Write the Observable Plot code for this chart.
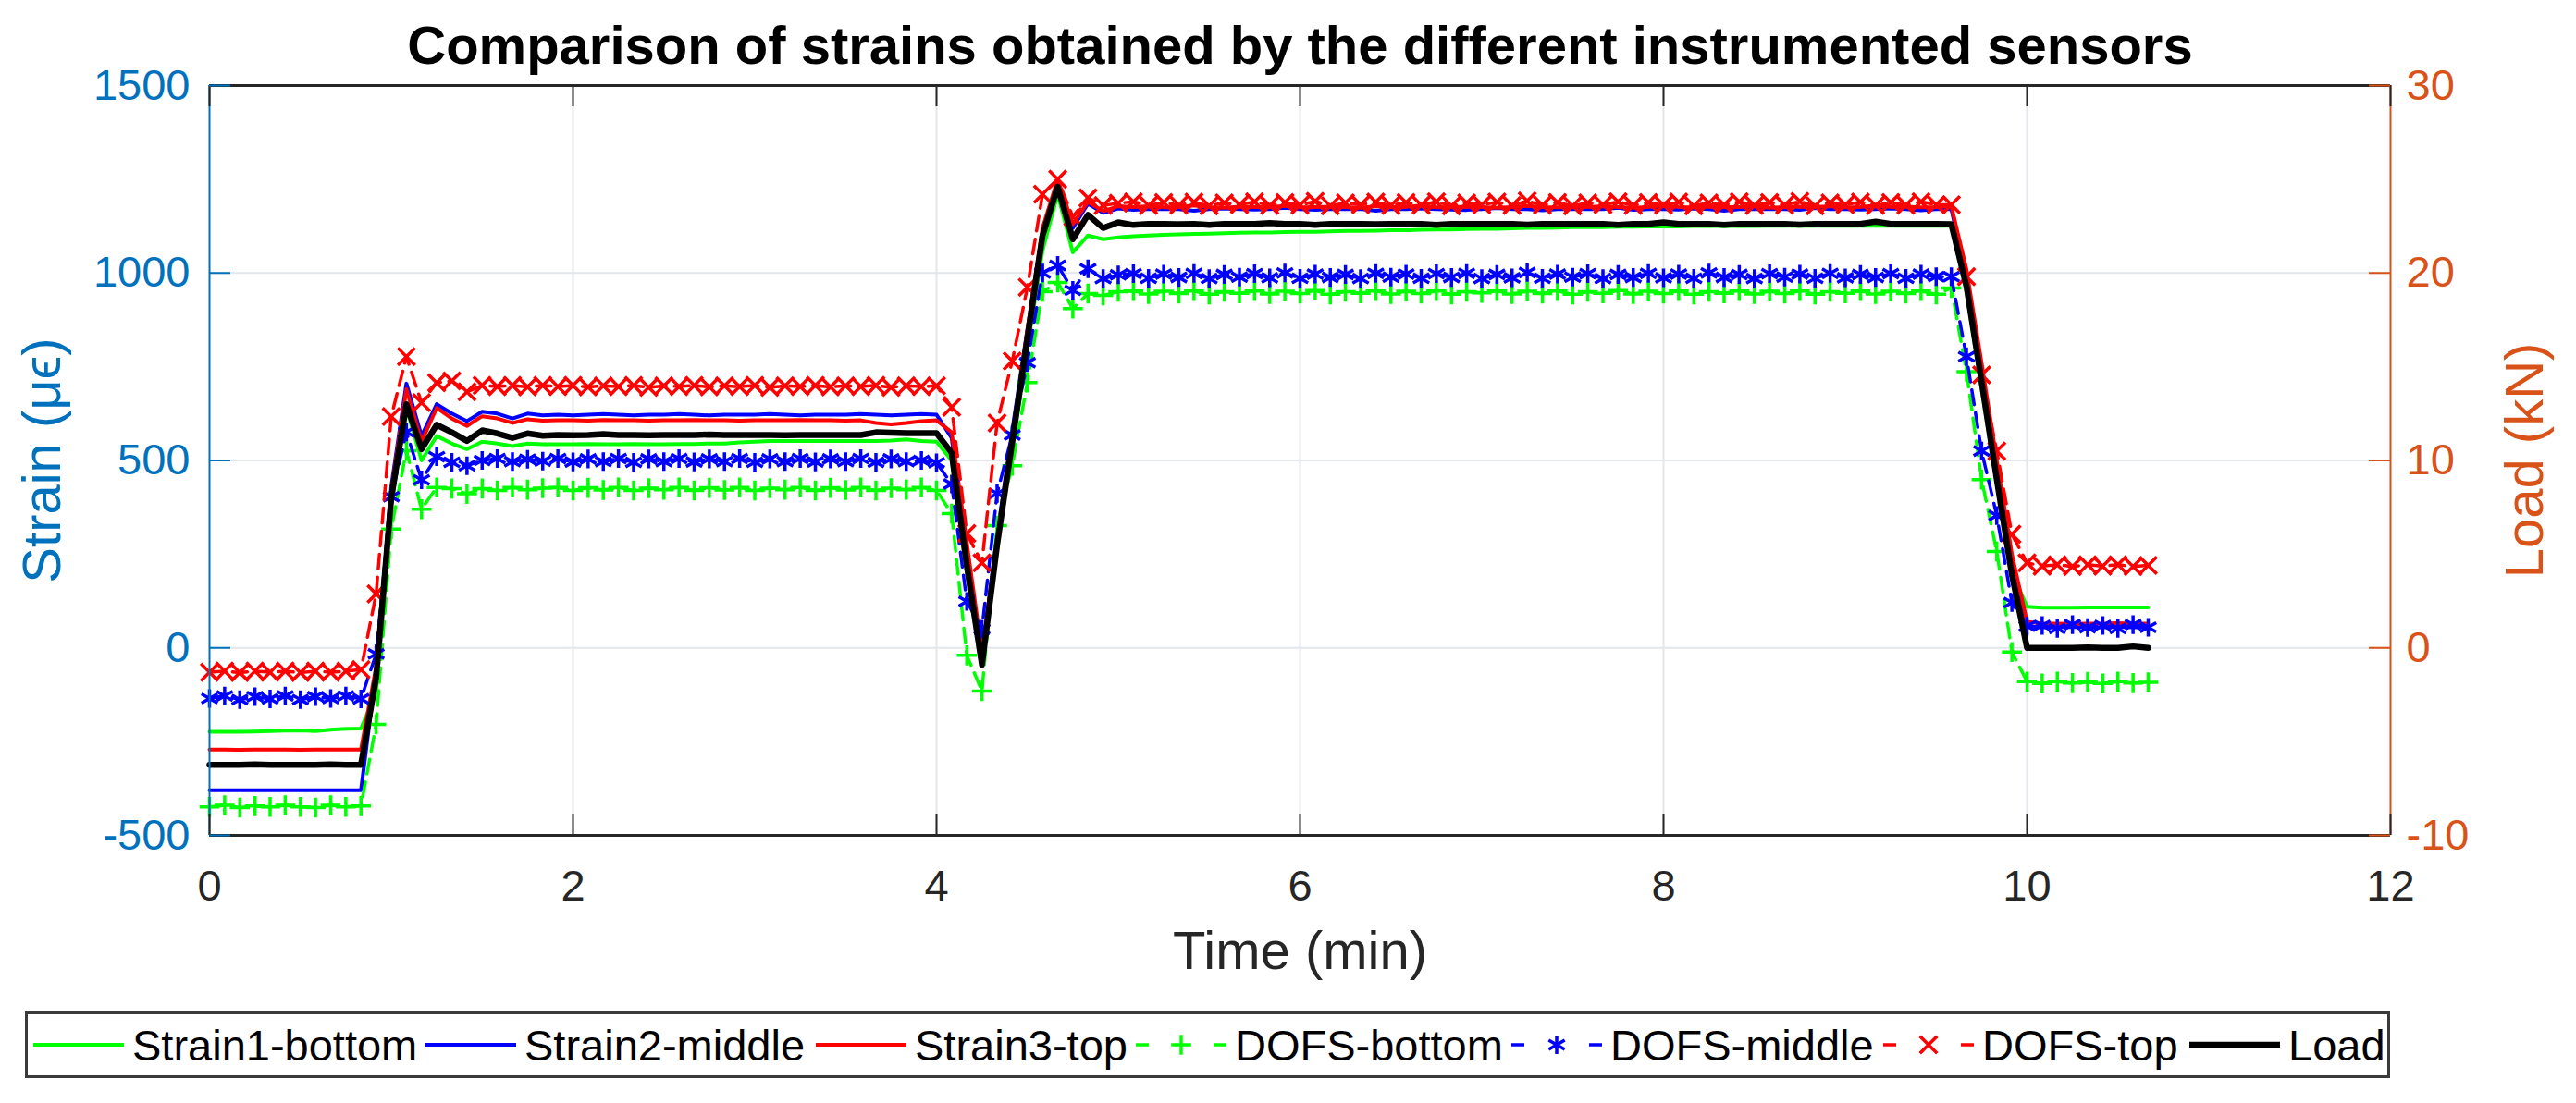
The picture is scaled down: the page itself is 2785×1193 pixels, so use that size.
<!DOCTYPE html>
<html>
<head>
<meta charset="utf-8">
<script src="https://cdn.jsdelivr.net/npm/d3@7"></script>
<script src="https://cdn.jsdelivr.net/npm/@observablehq/plot@0.6"></script>
<style>
  body { margin: 0; background: #fff; font-family: "Liberation Sans", Arial, Helvetica, sans-serif; }
  #wrap { position: relative; width: 2785px; height: 1193px; overflow: hidden; }
  #chart { position: absolute; left: 0; top: 0; }
  #legend { position: absolute; left: 27px; top: 1094px; width: 2557px; height: 72px; box-sizing: border-box; border: 3px solid #3a3a3a; background: #fff; }
  .item { position: absolute; top: 0; height: 66px; display: flex; align-items: center; font-size: 47px; color: #000; white-space: nowrap; }
  .item span { margin-left: 9px; }
</style>
</head>
<body>
<div id="wrap"><div id="chart"></div><div id="legend"></div></div>
<script>
// ---------------- data ----------------
const timeSec = [
  0,5,10,15,20,25,30,35,40,45,50,55,60,65,70,75,
  80,85,90,95,100,105,110,115,120,125,130,135,140,145,150,155,
  160,165,170,175,180,185,190,195,200,205,210,215,220,225,230,235,
  240,245,250,255,260,265,270,275,280,285,290,295,300,305,310,315,
  320,325,330,335,340,345,350,355,360,365,370,375,380,385,390,395,
  400,405,410,415,420,425,430,435,440,445,450,455,460,465,470,475,
  480,485,490,495,500,505,510,515,520,525,530,535,540,545,550,555,
  560,565,570,575,580,585,590,595,600,605,610,615,620,625,630,635,
  640
];

const strain1Bottom = [
  -224,-224,-224,-223,-222,-221,-220,-222,-218,-216,-215,
  -120,380,640,500,565,545,530,550,545,538,545,543,
  543,543,544,543,543,544,543,543,544,544,545,545,548,550,552,552,552,552,552,552,552,552,553,556,552,550,
  500,200,-50,270,530,800,1060,1210,1055,1100,1090,1095,
  1098,1100,1102,1103,1104,1105,1106,1107,1108,1108,
  1109,1110,1110,1111,1112,1112,1113,1114,1114,1115,
  1116,1116,1117,1118,1118,1119,1120,1120,1121,1122,
  1122,1122,1123,1123,1124,1124,1124,1125,1125,1125,
  1125,1125,1126,1126,1126,1126,1126,1126,1126,1126,
  1126,1126,1126,1126,1126,
  950,690,440,200,110,
  107,107,107,108,108,108,108,108
];

const strain2Middle = [
  -380,-380,-380,-380,-380,-380,-380,-380,-380,-380,-380,
  -60,430,705,565,650,625,605,630,625,612,625,620,
  622,620,622,624,622,620,622,622,624,622,620,622,622,622,624,622,620,622,622,622,624,622,620,622,624,622,
  560,250,-20,300,580,850,1110,1245,1120,1185,1160,1172,
  1168,1170,1171,1170,1166,1170,1172,1170,1169,1170,
  1174,1170,1168,1170,1170,1171,1166,1170,1170,1172,
  1170,1169,1168,1170,1173,1170,1170,1167,1170,1171,
  1170,1170,1174,1168,1170,1170,1169,1172,1170,1166,
  1170,1170,1171,1170,1168,1173,1170,1170,1169,1170,
  1172,1170,1167,1170,1170,
  990,735,475,220,58,
  55,55,56,55,55,56,55,55
];

const strain3Top = [
  -271,-271,-272,-271,-271,-271,-272,-271,-271,-271,-271,
  -50,420,690,550,640,612,592,618,612,600,610,606,
  607,607,606,608,607,607,606,607,607,608,607,607,606,607,607,607,608,607,607,606,607,600,596,600,605,607,
  575,280,-10,280,560,850,1120,1250,1130,1190,1165,1178,
  1176,1178,1175,1176,1180,1176,1174,1177,1176,1176,
  1179,1175,1176,1177,1176,1174,1178,1176,1176,1180,
  1175,1176,1177,1176,1174,1176,1179,1176,1175,1177,
  1176,1178,1176,1174,1176,1180,1176,1175,1177,1176,
  1176,1179,1174,1176,1177,1176,1178,1175,1176,1180,
  1176,1177,1175,1176,1178,
  1010,760,500,250,70,
  65,65,64,65,65,66,65,65
];

const dofsBottom = [
  -424,-420,-426,-422,-424,-420,-424,-426,-420,-424,-422,
  -204,317,526,370,428,425,411,425,420,428,422,426,
  428,420,427,421,428,420,426,422,428,420,427,421,428,420,426,422,428,420,427,421,428,420,426,422,428,420,
  358,-20,-115,326,486,708,950,975,905,945,940,950,
  952,944,951,945,952,943,950,946,952,944,
  951,945,953,943,950,946,952,944,951,945,
  952,943,950,947,952,944,951,945,952,943,
  950,946,953,944,951,945,952,943,950,946,
  952,944,951,945,952,943,950,946,952,944,
  951,945,952,943,960,
  737,449,257,-11,-90,
  -95,-90,-94,-91,-95,-90,-94,-92
];

const dofsMiddle = [
  -135,-128,-138,-130,-136,-128,-138,-130,-135,-128,-136,
  -16,403,576,448,510,495,486,500,505,497,503,498,
  505,496,504,497,505,495,504,497,505,496,504,497,505,495,504,497,505,496,504,497,505,495,504,497,500,494,
  437,124,50,412,568,761,1000,1020,954,1011,985,995,
  998,986,997,988,999,985,996,989,998,987,
  1000,986,997,988,996,985,999,989,997,986,
  998,988,999,985,996,987,1001,986,997,989,
  998,985,996,988,999,987,997,986,1000,988,
  996,985,998,989,997,986,999,987,996,988,
  998,986,997,990,990,
  777,525,353,121,58,
  60,52,62,54,60,52,62,55
];

const dofsTop = [
  -65,-62,-66,-62,-65,-62,-66,-62,-65,-62,-58,
  144,617,777,654,707,712,683,700,697,700,696,700,
  697,700,696,699,697,700,695,699,697,700,696,699,697,700,695,699,697,700,696,699,697,700,695,699,697,699,
  642,305,227,600,765,962,1210,1250,1150,1200,1180,1186,
  1190,1180,1188,1181,1189,1179,1187,1182,1190,1180,
  1188,1181,1191,1179,1187,1182,1189,1180,1188,1181,
  1190,1179,1187,1182,1189,1180,1192,1181,1188,1179,
  1187,1182,1190,1180,1188,1181,1189,1179,1187,1182,
  1190,1180,1188,1181,1191,1179,1187,1182,1189,1180,
  1188,1181,1190,1182,1182,
  990,728,525,303,227,
  218,222,217,222,218,222,217,220
];

const loadKN = [
  -6.24,-6.24,-6.24,-6.22,-6.24,-6.24,-6.24,-6.24,-6.22,-6.24,-6.24,
  -1.6,8.0,13.0,10.6,11.9,11.5,11.04,11.6,11.44,11.2,11.44,11.32,
  11.36,11.34,11.36,11.40,11.36,11.36,11.34,11.36,11.36,11.36,11.38,11.36,11.36,11.36,11.36,11.34,11.36,11.36,11.36,11.36,11.36,11.50,11.48,11.46,11.46,11.46,
  10.4,4.4,-0.9,5.5,11.0,16.5,22.0,24.6,21.8,23.1,22.4,22.7,
  22.56,22.62,22.62,22.60,22.62,22.56,22.62,22.62,22.62,22.66,
  22.62,22.62,22.56,22.62,22.62,22.62,22.60,22.62,22.62,22.62,
  22.56,22.62,22.62,22.62,22.62,22.62,22.58,22.62,22.62,22.62,
  22.62,22.62,22.56,22.62,22.62,22.70,22.62,22.62,22.62,22.56,
  22.62,22.62,22.62,22.62,22.58,22.62,22.62,22.62,22.62,22.74,
  22.62,22.62,22.62,22.62,22.60,
  19.3,14.2,9.0,3.9,0.0,
  0.0,0.0,0.0,0.02,0.0,0.0,0.08,0.0
];

const seriesNames = ["Strain1-bottom","Strain2-middle","Strain3-top","DOFS-bottom","DOFS-middle","DOFS-top","Load"];
const xTicks = [0,2,4,6,8,10,12];
const strainTicks = [-500,0,500,1000,1500];
const loadTicks = [-10,0,10,20,30];
const titleText = "Comparison of strains obtained by the different instrumented sensors";
const xLabel = "Time (min)";
const yLabelLeft = "Strain (\u03bc\u03f5)";
const yLabelRight = "Load (kN)";

// ---------------- layout / style ----------------
const xDomain = [xTicks[0], xTicks[xTicks.length - 1]];
const yDomain = [strainTicks[0], strainTicks[strainTicks.length - 1]];
const loadDomain = [loadTicks[0], loadTicks[loadTicks.length - 1]];
const k = (yDomain[1] - yDomain[0]) / (loadDomain[1] - loadDomain[0]);
const toStrain = v => yDomain[0] + (v - loadDomain[0]) * k;
const fromStrain = s => Math.round(loadDomain[0] + (s - yDomain[0]) / k);

const BLUE_AX = "#0072bd", ORANGE_AX = "#d95319", DARK = "#262626", GRID = "#e3e6ea";
const FONT = "'Liberation Sans', Arial, Helvetica, sans-serif";

const series = [
  {name: seriesNames[0], values: strain1Bottom, color: "#00ff00", width: 4},
  {name: seriesNames[1], values: strain2Middle, color: "#0000ff", width: 4},
  {name: seriesNames[2], values: strain3Top, color: "#ff0000", width: 4},
  {name: seriesNames[3], values: dofsBottom, color: "#00ff00", width: 3.5, dash: "16,9", symbol: "plus", r: 7},
  {name: seriesNames[4], values: dofsMiddle, color: "#0000ff", width: 3.5, dash: "16,9", symbol: "asterisk", r: 9.5},
  {name: seriesNames[5], values: dofsTop, color: "#ff0000", width: 3.5, dash: "16,9", symbol: "times", r: 8.5},
  {name: seriesNames[6], values: loadKN.map(toStrain), color: "#000000", width: 6.5}
];

const dataMarks = [];
for (const s of series) {
  const rows = timeSec.map((sec, i) => ({t: sec / 60, v: s.values[i]}));
  dataMarks.push(Plot.line(rows, {x: "t", y: "v", stroke: s.color, strokeWidth: s.width, strokeDasharray: s.dash, strokeLinejoin: "round"}));
  if (s.symbol) {
    dataMarks.push(Plot.dot(rows, {x: "t", y: "v", symbol: s.symbol, r: s.r, stroke: s.color, strokeWidth: 3.5, fill: "none"}));
  }
}

const TICK = 23;
const chart = Plot.plot({
  width: 2785,
  height: 1080,
  marginTop: 92,
  marginRight: 201,
  marginBottom: 177,
  marginLeft: 226,
  style: {fontFamily: FONT, background: "#fff", overflow: "visible"},
  x: {domain: xDomain, label: null},
  y: {domain: yDomain, label: null},
  marks: [
    Plot.ruleX(xTicks.slice(1, -1), {stroke: GRID, strokeWidth: 2}),
    Plot.ruleY(strainTicks.slice(1, -1), {stroke: GRID, strokeWidth: 2}),
    ...dataMarks,
    // box
    Plot.ruleY([yDomain[0], yDomain[1]], {stroke: DARK, strokeWidth: 3}),
    Plot.ruleX([xDomain[0]], {stroke: BLUE_AX, strokeWidth: 2}),
    Plot.ruleX([xDomain[1]], {stroke: ORANGE_AX, strokeWidth: 2}),
    // inward ticks
    Plot.ruleX(xTicks, {x: d => d, y1: yDomain[0], y2: yDomain[0], insetBottom: TICK, stroke: DARK, strokeWidth: 2}),
    Plot.ruleX(xTicks, {x: d => d, y1: yDomain[1], y2: yDomain[1], insetTop: TICK, stroke: DARK, strokeWidth: 2}),
    Plot.ruleY(strainTicks, {y: d => d, x1: xDomain[0], x2: xDomain[0], insetLeft: TICK, stroke: BLUE_AX, strokeWidth: 2}),
    Plot.ruleY(loadTicks.map(toStrain), {y: d => d, x1: xDomain[1], x2: xDomain[1], insetRight: TICK, stroke: ORANGE_AX, strokeWidth: 2}),
    // tick labels
    Plot.axisX({ticks: xTicks, tickSize: 0, tickPadding: 37, fontSize: 47, color: DARK, fill: DARK, tickFormat: d => String(d), label: null}),
    Plot.axisY({anchor: "left", ticks: strainTicks, tickSize: 0, tickPadding: 21, fontSize: 47, color: BLUE_AX, fill: BLUE_AX, tickFormat: d => String(d), label: null}),
    Plot.axisY({anchor: "right", ticks: loadTicks.map(toStrain), tickSize: 0, tickPadding: 17, fontSize: 47, color: ORANGE_AX, fill: ORANGE_AX, tickFormat: d => String(fromStrain(d)), label: null}),
    // titles
    Plot.text([titleText], {text: d => d, frameAnchor: "top", lineAnchor: "middle", dy: -41.6, fontSize: 58, fontWeight: "bold", fill: "#000"}),
    Plot.text([xLabel], {text: d => d, frameAnchor: "bottom", lineAnchor: "middle", dy: 126, fontSize: 58, fill: DARK}),
    Plot.text([yLabelLeft], {text: d => d, frameAnchor: "left", textAnchor: "middle", lineAnchor: "middle", rotate: -90, dx: -180, fontSize: 58, fill: BLUE_AX}),
    Plot.text([yLabelRight], {text: d => d, frameAnchor: "right", textAnchor: "middle", lineAnchor: "middle", rotate: -90, dx: 146, fontSize: 58, fill: ORANGE_AX})
  ]
});
document.getElementById("chart").append(chart);

// ---------------- legend ----------------
const legendLefts = [6, 430, 852, 1198, 1604, 2006, 2337];
const symbolMap = {plus: d3.symbolPlus, asterisk: d3.symbolAsterisk, times: d3.symbolTimes};
const NS = "http://www.w3.org/2000/svg";
const legendEl = document.getElementById("legend");
series.forEach((s, i) => {
  const item = document.createElement("div");
  item.className = "item";
  item.style.left = legendLefts[i] + "px";
  const sw = document.createElementNS(NS, "svg");
  sw.setAttribute("width", 98);
  sw.setAttribute("height", 40);
  const ln = document.createElementNS(NS, "line");
  ln.setAttribute("x1", 0); ln.setAttribute("x2", 98);
  ln.setAttribute("y1", 20); ln.setAttribute("y2", 20);
  ln.setAttribute("stroke", s.color);
  ln.setAttribute("stroke-width", s.width);
  if (s.dash) ln.setAttribute("stroke-dasharray", "14,70");
  sw.append(ln);
  if (s.symbol) {
    const p = document.createElementNS(NS, "path");
    p.setAttribute("d", d3.symbol(symbolMap[s.symbol], Math.PI * s.r * s.r)());
    p.setAttribute("transform", "translate(49,20)");
    p.setAttribute("stroke", s.color);
    p.setAttribute("stroke-width", 3.5);
    p.setAttribute("fill", "none");
    sw.append(p);
  }
  const tx = document.createElement("span");
  tx.textContent = s.name;
  item.append(sw, tx);
  legendEl.append(item);
});
</script>
</body>
</html>
